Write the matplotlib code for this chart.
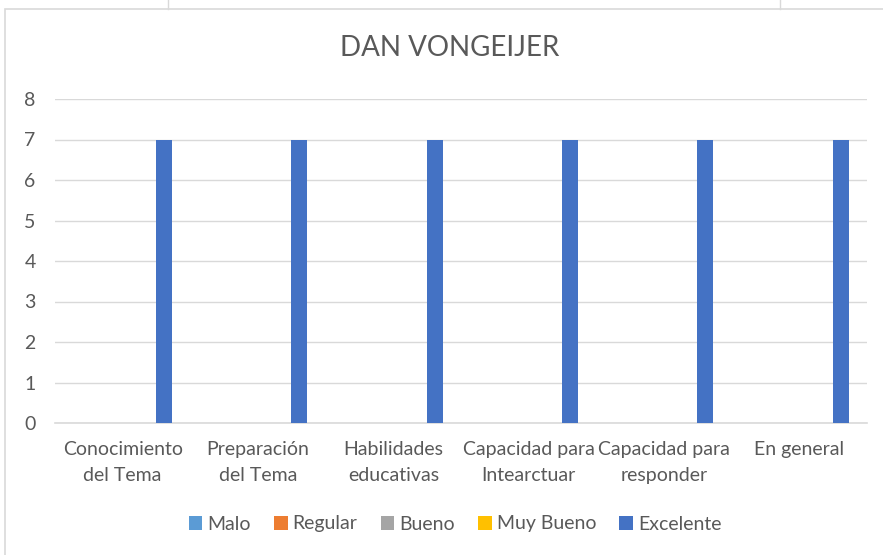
import matplotlib.pyplot as plt
import numpy as np
from matplotlib.lines import Line2D
from matplotlib.patches import Rectangle

categories = ["Conocimiento\ndel Tema", "Preparación\ndel Tema", "Habilidades\neducativas",
              "Capacidad para\nIntearctuar", "Capacidad para\nresponder", "En general"]
series = ["Malo", "Regular", "Bueno", "Muy Bueno", "Excelente"]
malo = [0, 0, 0, 0, 0, 0]
regular = [0, 0, 0, 0, 0, 0]
bueno = [0, 0, 0, 0, 0, 0]
muy_bueno = [0, 0, 0, 0, 0, 0]
excelente = [7, 7, 7, 7, 7, 7]
colors = ["#5b9bd5", "#ed7d31", "#a5a5a5", "#ffc000", "#4472c4"]

plt.rcParams['font.family'] = ['Lato', 'DejaVu Sans']
txt = "#595959"

fig = plt.figure(figsize=(8.83, 5.55), dpi=100)
# chart border and spreadsheet cell lines
fig.patches.append(Rectangle((5 / 883, -0.1), 1.1, 1 - 9 / 555 + 0.1, transform=fig.transFigure,
                             fill=False, edgecolor="#d9d9d9", linewidth=1.2))
for xl in [168, 780]:
    fig.lines.append(Line2D([xl / 883, xl / 883], [1 - 9 / 555, 1], transform=fig.transFigure,
                            color="#d9d9d9", linewidth=1))

ax = fig.add_axes([55 / 883, 1 - 423 / 555, (867 - 55) / 883, (423 - 99) / 555])
x = np.arange(len(categories))
step = 0.153
width = 0.118
for i, (name, vals) in enumerate(zip(series, [malo, regular, bueno, muy_bueno, excelente])):
    ax.bar(x + (i - 2) * step, vals, width, color=colors[i], label=name, zorder=3)

ax.set_xlim(-0.5, len(categories) - 0.5)
ax.set_ylim(0, 8)
ax.set_yticks(range(0, 9))
ax.grid(axis="y", color="#d9d9d9", linewidth=1, zorder=0)
for s in ["top", "right", "left"]:
    ax.spines[s].set_visible(False)
ax.spines["bottom"].set_color("#d9d9d9")
ax.spines["bottom"].set_linewidth(1.2)
ax.set_xticks(x)
ax.set_xticklabels(categories, linespacing=1.65)
ax.tick_params(axis="both", length=0, labelsize=14, colors=txt)
ax.tick_params(axis="y", pad=14)
ax.tick_params(axis="x", pad=13)

fig.text(450 / 883, 1 - 48 / 555, "DAN VONGEIJER", ha="center", va="center", fontsize=20, color=txt)

leg = fig.legend(loc="center", bbox_to_anchor=(455 / 883, 1 - 524 / 555), ncol=5, frameon=False,
                 fontsize=14, handlelength=0.7, handleheight=0.7, handletextpad=0.25, columnspacing=1.2)
for t in leg.get_texts():
    t.set_color(txt)

fig.savefig("out.png", dpi=100)
